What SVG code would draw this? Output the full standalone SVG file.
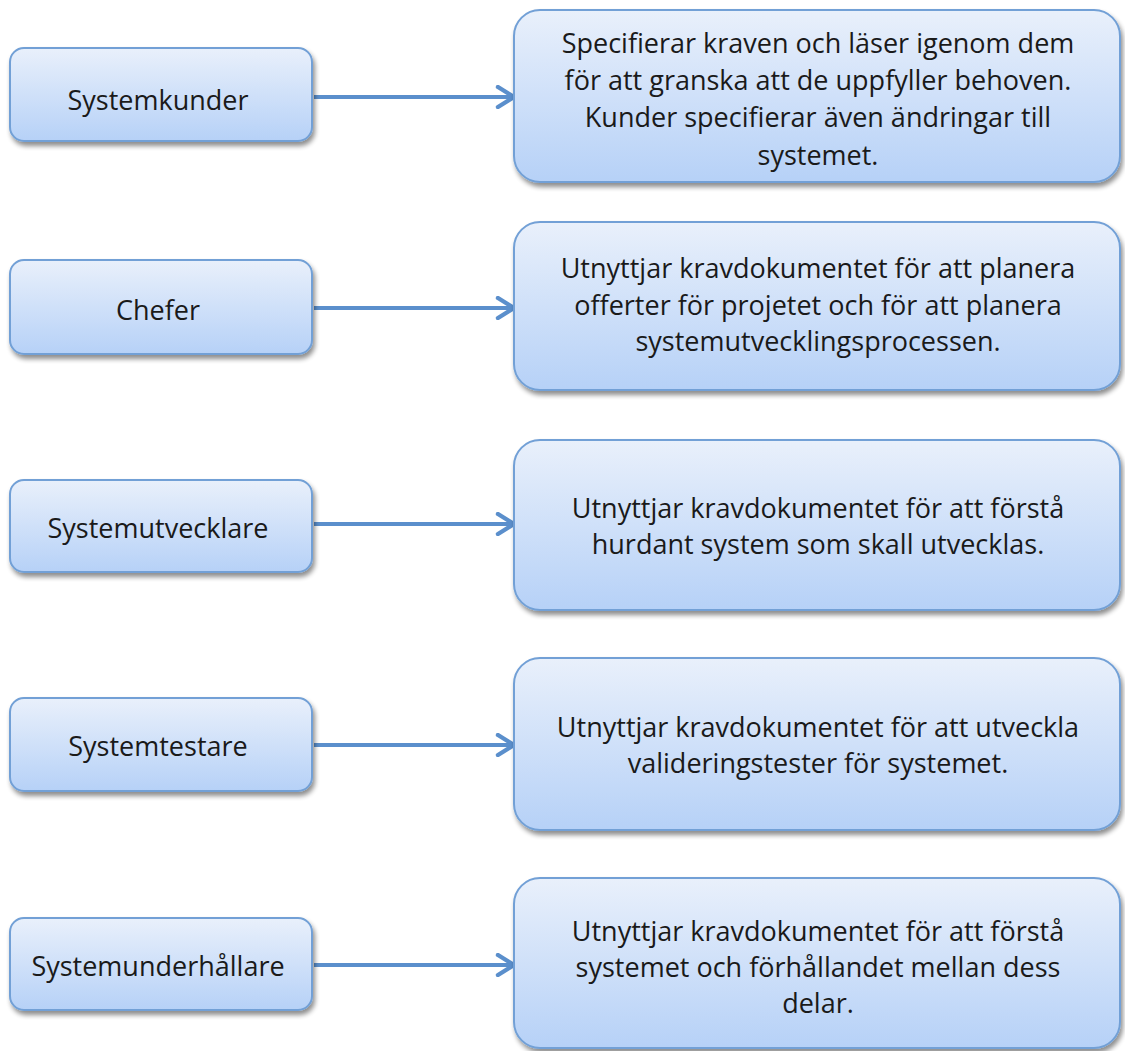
<svg xmlns="http://www.w3.org/2000/svg" width="1125" height="1051" viewBox="0 0 1125 1051">
<defs>
<linearGradient id="g" x1="0" y1="0" x2="0" y2="1">
<stop offset="0" stop-color="#e9f0fb"/>
<stop offset="1" stop-color="#b6d1f7"/>
</linearGradient>
<filter id="sh" x="-10%" y="-10%" width="130%" height="140%">
<feGaussianBlur in="SourceAlpha" stdDeviation="2.5"/>
<feOffset dx="2" dy="4" result="b"/>
<feComponentTransfer><feFuncA type="linear" slope="0.45"/></feComponentTransfer>
<feMerge><feMergeNode/><feMergeNode in="SourceGraphic"/></feMerge>
</filter>
<marker id="arr" viewBox="0 0 12 12" refX="10" refY="6" markerWidth="6" markerHeight="6" orient="auto" markerUnits="strokeWidth">
<path d="M2,1 L10,6 L2,11" fill="none" stroke="#5b8fcc" stroke-width="2.2" stroke-linecap="round" stroke-linejoin="round"/>
</marker>
</defs>
<style>
.box{fill:url(#g);stroke:#72a0d6;stroke-width:2;filter:url(#sh)}
.t{font-family:"Open Sans","Liberation Sans",sans-serif;font-size:27px;fill:#1a1a1a;text-anchor:middle}
.c{stroke:#5b8fcc;stroke-width:4;fill:none;marker-end:url(#arr)}
</style>
<g id="connectors">
<line class="c" x1="314" y1="97" x2="514" y2="97"/>
<line class="c" x1="314" y1="308" x2="514" y2="308"/>
<line class="c" x1="314" y1="524" x2="514" y2="524"/>
<line class="c" x1="314" y1="745" x2="514" y2="745"/>
<line class="c" x1="314" y1="965" x2="514" y2="965"/>
</g>
<g id="n1"><rect class="box" x="10" y="48" width="302" height="93" rx="14"/><text class="t" x="158" y="110">Systemkunder</text></g>
<g id="n2"><rect class="box" x="10" y="260" width="302" height="94" rx="14"/><text class="t" x="158" y="320">Chefer</text></g>
<g id="n3"><rect class="box" x="10" y="480" width="302" height="92" rx="14"/><text class="t" x="158" y="538">Systemutvecklare</text></g>
<g id="n4"><rect class="box" x="10" y="698" width="302" height="93" rx="14"/><text class="t" x="158" y="756">Systemtestare</text></g>
<g id="n5"><rect class="box" x="10" y="918" width="302" height="92" rx="14"/><text class="t" x="158" y="976">Systemunderhållare</text></g>
<g id="d1"><rect class="box" x="514" y="10" width="606" height="172" rx="26"/>
<text class="t" x="818" y="53">Specifierar kraven och läser igenom dem</text>
<text class="t" x="818" y="90">för att granska att de uppfyller behoven.</text>
<text class="t" x="818" y="127">Kunder specifierar även ändringar till</text>
<text class="t" x="818" y="165">systemet.</text></g>
<g id="d2"><rect class="box" x="514" y="222" width="606" height="168" rx="26"/>
<text class="t" x="818" y="278">Utnyttjar kravdokumentet för att planera</text>
<text class="t" x="818" y="315">offerter för projetet och för att planera</text>
<text class="t" x="818" y="351">systemutvecklingsprocessen.</text></g>
<g id="d3"><rect class="box" x="514" y="440" width="606" height="170" rx="26"/>
<text class="t" x="818" y="518">Utnyttjar kravdokumentet för att förstå</text>
<text class="t" x="818" y="554">hurdant system som skall utvecklas.</text></g>
<g id="d4"><rect class="box" x="514" y="658" width="606" height="172" rx="26"/>
<text class="t" x="818" y="737">Utnyttjar kravdokumentet för att utveckla</text>
<text class="t" x="818" y="773">valideringstester för systemet.</text></g>
<g id="d5"><rect class="box" x="514" y="878" width="606" height="170" rx="26"/>
<text class="t" x="818" y="941">Utnyttjar kravdokumentet för att förstå</text>
<text class="t" x="818" y="977">systemet och förhållandet mellan dess</text>
<text class="t" x="818" y="1013">delar.</text></g>
</svg>
